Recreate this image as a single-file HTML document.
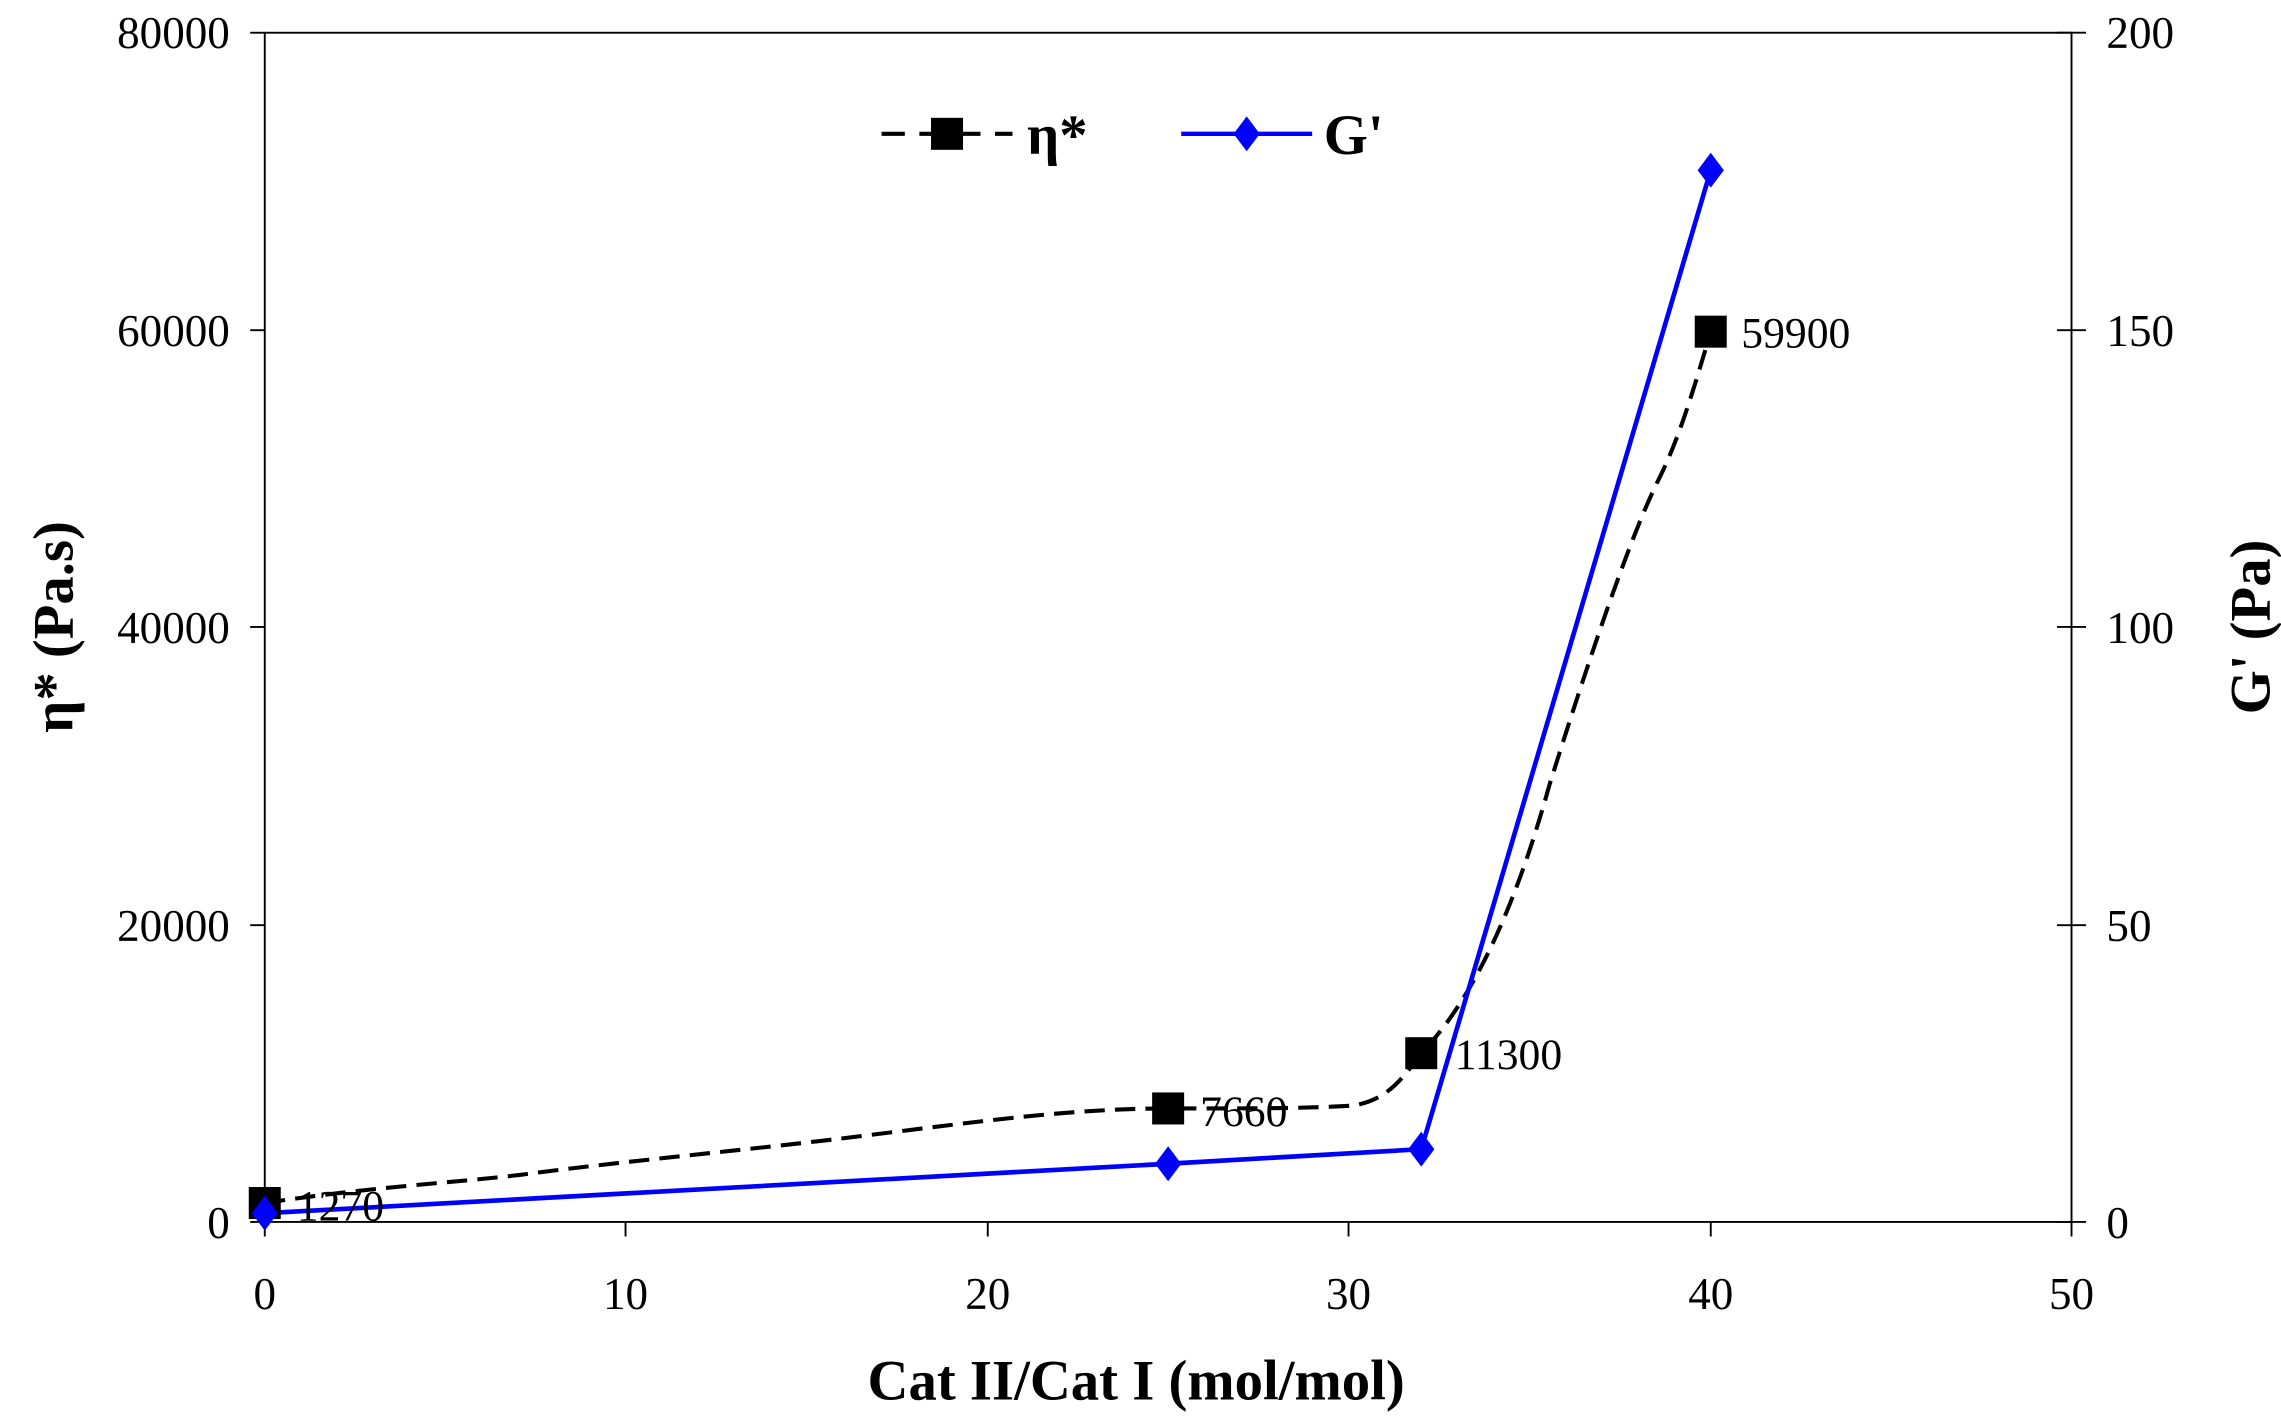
<!DOCTYPE html>
<html><head><style>html,body{margin:0;padding:0;background:#fff}svg{display:block}</style></head>
<body>
<svg width="2281" height="1425" viewBox="0 0 1568 979.6" preserveAspectRatio="none" xmlns="http://www.w3.org/2000/svg" font-family="Liberation Serif, serif">
<rect x="0" y="0" width="1568" height="980" fill="#fff"/>
<rect x="182" y="22.5" width="1242" height="817.5" fill="none" stroke="#000" stroke-width="1.3"/>
<g stroke="#000" stroke-width="1.3">
<line x1="172" y1="22.5" x2="182" y2="22.5"/><line x1="172" y1="227" x2="182" y2="227"/><line x1="172" y1="431" x2="182" y2="431"/><line x1="172" y1="636" x2="182" y2="636"/><line x1="172" y1="840" x2="182" y2="840"/>
<line x1="1414" y1="227" x2="1434" y2="227"/><line x1="1414" y1="431" x2="1434" y2="431"/><line x1="1414" y1="636" x2="1434" y2="636"/><line x1="1414" y1="840" x2="1434" y2="840"/><line x1="1414" y1="22.5" x2="1434" y2="22.5"/>
<line x1="182" y1="840" x2="182" y2="850"/><line x1="430" y1="840" x2="430" y2="850"/><line x1="679" y1="840" x2="679" y2="850"/><line x1="927" y1="840" x2="927" y2="850"/><line x1="1176" y1="840" x2="1176" y2="850"/><line x1="1424" y1="840" x2="1424" y2="850"/>
</g>
<g font-size="31" text-anchor="end">
<text x="158" y="33">80000</text><text x="158" y="238">60000</text><text x="158" y="442">40000</text><text x="158" y="647">20000</text><text x="158" y="851">0</text>
</g>
<g font-size="31" text-anchor="start">
<text x="1448" y="33">200</text><text x="1448" y="238">150</text><text x="1448" y="442">100</text><text x="1448" y="647">50</text><text x="1448" y="851">0</text>
</g>
<g font-size="31" text-anchor="middle">
<text x="182" y="900">0</text><text x="430" y="900">10</text><text x="679" y="900">20</text><text x="927" y="900">30</text><text x="1176" y="900">40</text><text x="1424" y="900">50</text>
</g>
<text x="781" y="962" font-size="39" font-weight="bold" text-anchor="middle">Cat II/Cat I (mol/mol)</text>
<text transform="translate(50,431) rotate(-90)" font-size="39" font-weight="bold" text-anchor="middle">η* (Pa.s)</text>
<text transform="translate(1560,431) rotate(-90)" font-size="39" font-weight="bold" text-anchor="middle">G' (Pa)</text>
<path d="M182,827 C260,815 330,812 370,806 C450,796 520,790 600,780 C680,770 740,762 803,762 C860,762 900,762 930,760 C955,756 965,740 977,724 C1010,690 1040,630 1065,540 C1090,460 1120,370 1140,330 C1155,300 1165,265 1176,228" fill="none" stroke="#000" stroke-width="2.8" stroke-dasharray="14,7"/>
<polyline points="182,834 803,800 977,790 1176,117" fill="none" stroke="#0000ff" stroke-width="3.2"/>
<g fill="#000">
<rect x="171" y="816" width="22" height="22"/><rect x="792" y="751" width="22" height="22"/><rect x="966" y="713" width="22" height="22"/><rect x="1165" y="217" width="22" height="22"/>
</g>
<g fill="#0000ff">
<polygon points="182,822 191,834 182,846 173,834"/><polygon points="803,788 812,800 803,812 794,800"/><polygon points="977,778 986,790 977,802 968,790"/><polygon points="1176,105 1185,117 1176,129 1167,117"/>
</g>
<g font-size="30">
<text x="204" y="839">1270</text><text x="825" y="774">7660</text><text x="1000" y="735">11300</text><text x="1197" y="239">59900</text>
</g>
<line x1="606" y1="92" x2="696" y2="92" stroke="#000" stroke-width="2.8" stroke-dasharray="16,10"/>
<rect x="640" y="81" width="22" height="22" fill="#000"/>
<text x="706" y="106" font-size="39" font-weight="bold">η*</text>
<line x1="812" y1="92" x2="902" y2="92" stroke="#0000ff" stroke-width="3"/>
<polygon points="857,80 866,92 857,104 848,92" fill="#0000ff"/>
<text x="910" y="106" font-size="39" font-weight="bold">G'</text>
</svg>
</body></html>
